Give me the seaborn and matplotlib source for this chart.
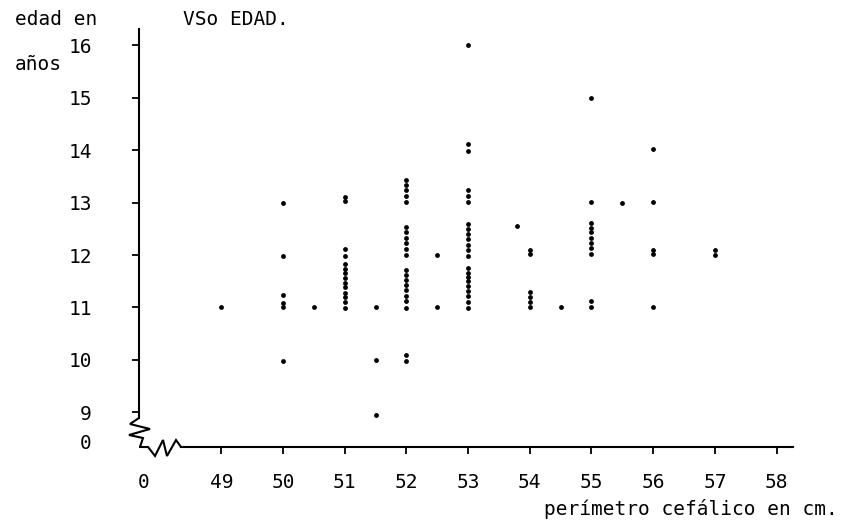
import matplotlib
matplotlib.use("Agg")
import matplotlib.pyplot as plt
import seaborn as sns
import pandas as pd

# Ages (years) recorded for each head circumference (cm)
edades_49 = [11.0]
edades_50 = [13.0, 11.98, 11.23, 11.09, 11.0, 9.98]
edades_50_5 = [11.0]
edades_51 = [13.11, 13.03, 12.11, 11.98, 11.83, 11.74, 11.66, 11.56,
             11.47, 11.38, 11.28, 11.19, 11.10, 10.99]
edades_51_5 = [11.0, 10.0, 8.95]
edades_52 = [13.43, 13.34, 13.24, 13.13, 13.01,
             12.53, 12.43, 12.32, 12.22, 12.11, 12.0,
             11.71, 11.61, 11.52, 11.43, 11.33, 11.22, 11.13, 10.99,
             10.10, 9.97]
edades_52_5 = [12.0, 11.0]
edades_53 = [16.0, 14.11, 13.98, 13.25, 13.13, 13.01,
             12.60, 12.50, 12.41, 12.31, 12.20, 12.09, 11.98,
             11.75, 11.65, 11.58, 11.50, 11.40, 11.31, 11.21, 11.11, 10.98]
edades_53_8 = [12.56]
edades_54 = [12.09, 12.01, 11.30, 11.19, 11.11, 11.0]
edades_54_5 = [11.0]
edades_55 = [15.0, 13.02, 12.62, 12.52, 12.43, 12.33, 12.22, 12.13, 12.02,
             11.13, 11.0]
edades_55_5 = [13.0]
edades_56 = [14.02, 13.01, 12.10, 12.01, 11.0]
edades_57 = [12.10, 12.0]

perimetros = [49, 50, 50.5, 51, 51.5, 52, 52.5, 53, 53.8, 54, 54.5, 55, 55.5, 56, 57]
grupos = [edades_49, edades_50, edades_50_5, edades_51, edades_51_5, edades_52,
          edades_52_5, edades_53, edades_53_8, edades_54, edades_54_5, edades_55,
          edades_55_5, edades_56, edades_57]

x_ticks = [49, 50, 51, 52, 53, 54, 55, 56, 57, 58]
y_ticks = [9, 10, 11, 12, 13, 14, 15, 16]

rows = [(p, e) for p, g in zip(perimetros, grupos) for e in g]
df = pd.DataFrame(rows, columns=["perimetro", "edad"])

sns.set_theme(style="ticks")
plt.rcParams["font.family"] = ["DejaVu Sans Mono", "DejaVu Sans"]
plt.rcParams["axes.linewidth"] = 1.5
plt.rcParams["text.color"] = "black"

W, H = 868, 528
fig = plt.figure(figsize=(W / 100, H / 100), dpi=100)
ax = fig.add_axes([139 / W, 1 - 447 / H, 654 / W, 418 / H])

sns.scatterplot(data=df, x="perimetro", y="edad", color="black", s=12,
                linewidth=0, legend=False, ax=ax)

x_min, x_max = 47.666, 58.266
y_min, y_max = 8.336, 16.313
ax.set_xlim(x_min, x_max)
ax.set_ylim(y_min, y_max)
ax.set_xlabel("")
ax.set_ylabel("")

# the broken-axis origin carries a "0" label without a tick mark
ax.set_xticks([47.74] + x_ticks)
ax.set_xticklabels(["0"] + [str(v) for v in x_ticks])
ax.set_yticks([8.45] + y_ticks)
ax.set_yticklabels(["0"] + [str(v) for v in y_ticks])
ax.xaxis.get_major_ticks()[0].tick1line.set_visible(False)
ax.yaxis.get_major_ticks()[0].tick1line.set_visible(False)

ax.tick_params(axis="x", direction="out", length=5, width=1.3, pad=14,
               labelsize=14, colors="black")
ax.tick_params(axis="y", direction="out", length=5, width=1.3, pad=29,
               labelsize=14, colors="black")

for side in ("top", "right"):
    ax.spines[side].set_visible(False)
ax.spines["left"].set_color("black")
ax.spines["bottom"].set_color("black")
ax.spines["left"].set_bounds(8.89, y_max)
ax.spines["bottom"].set_bounds(48.35, x_max)

# zigzag axis breaks near the origin
zig_y = ([0.0, -0.0138, 0.0168, -0.0153, 0.0061, 0.0015],
         [0.0694, 0.0550, 0.0431, 0.0287, 0.0215, 0.0])
zig_x = ([0.0015, 0.0138, 0.0245, 0.0367, 0.0428, 0.0566, 0.0642],
         [0.0, 0.0, -0.0215, 0.0167, -0.0215, 0.0167, 0.0])
for xs, ys in (zig_y, zig_x):
    ax.plot(xs, ys, transform=ax.transAxes, clip_on=False,
            color="black", lw=1.5, solid_joinstyle="miter")

fig.text(56 / W, 1 - 25 / H, "edad en", ha="center", va="baseline", fontsize=14)
fig.text(38 / W, 1 - 70 / H, "años", ha="center", va="baseline", fontsize=14)
fig.text(236 / W, 1 - 25 / H, "VSo EDAD.", ha="center", va="baseline", fontsize=14)
fig.text(691 / W, 1 - 515 / H, "perímetro cefálico en cm.", ha="center",
         va="baseline", fontsize=14)

fig.savefig("out.png", dpi=100, facecolor="white")
